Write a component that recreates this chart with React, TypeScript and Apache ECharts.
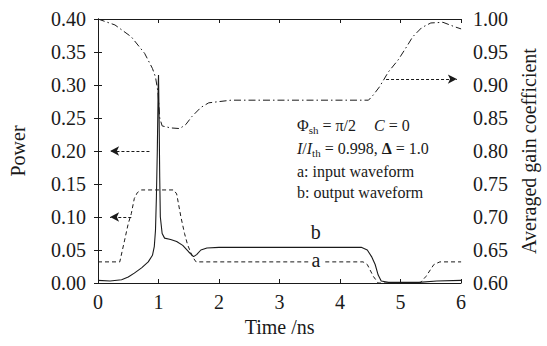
import React, { useEffect, useRef } from 'react';
import * as echarts from 'echarts';

const FONT = "'Times New Roman', 'Liberation Serif', Tinos, 'DejaVu Serif', serif";
const INK = '#1a1a1a';

// Input waveform (a)
const timeA = [0, 0.36, 0.44, 0.5, 0.55, 0.6, 0.65, 0.72, 1.25, 1.3, 1.37, 1.43, 1.48, 1.56, 1.62, 4.38, 4.45, 4.55, 4.63, 5.32, 5.42, 5.55, 5.65, 6];
const powerA = [0.032, 0.032, 0.065, 0.09, 0.105, 0.128, 0.137, 0.141, 0.141, 0.135, 0.1, 0.075, 0.058, 0.04, 0.032, 0.032, 0.028, 0.01, 0.0, 0.0, 0.01, 0.028, 0.032, 0.032];

// Output waveform (b)
const timeB = [0, 0.2, 0.39, 0.5, 0.6, 0.72, 0.83, 0.9, 0.93, 0.95, 0.965, 0.98, 0.995, 1.0, 1.01, 1.02, 1.03, 1.06, 1.1, 1.2, 1.3, 1.4, 1.5, 1.58, 1.63, 1.7, 1.8, 2.0, 4.35, 4.45, 4.52, 4.58, 4.63, 4.68, 4.8, 5.3, 5.6, 6];
const powerB = [0.004, 0.003, 0.005, 0.009, 0.015, 0.023, 0.032, 0.042, 0.055, 0.08, 0.13, 0.2, 0.3, 0.315, 0.25, 0.16, 0.1, 0.075, 0.068, 0.066, 0.063, 0.057, 0.047, 0.04, 0.043, 0.05, 0.053, 0.054, 0.054, 0.05, 0.04, 0.028, 0.012, 0.003, 0.001, 0.001, 0.003, 0.004];

// Averaged gain coefficient
const timeG = [0, 0.28, 0.55, 0.77, 0.9, 0.95, 0.99, 1.02, 1.06, 1.2, 1.35, 1.45, 1.55, 1.7, 1.83, 2.2, 4.47, 4.55, 4.65, 4.8, 4.96, 5.1, 5.2, 5.35, 5.5, 5.7, 5.9, 6];
const gainG = [1.0, 0.991, 0.973, 0.948, 0.925, 0.912, 0.89, 0.85, 0.838, 0.835, 0.834, 0.84, 0.852, 0.866, 0.873, 0.877, 0.877, 0.885, 0.897, 0.92, 0.938, 0.958, 0.973, 0.987, 0.994, 0.995, 0.988, 0.985];

const powerMin = 0;
const powerMax = 0.4;
const gainMin = 0.6;
const gainMax = 1.0;
const yStep = 0.05;

const pairs = (xs: number[], ys: number[]) => xs.map((x, i) => [x, ys[i]]);

export default function App() {
  const ref = useRef<HTMLDivElement>(null);
  useEffect(() => {
    document.body.style.margin = '0';
    const chart = echarts.init(ref.current!, null, { renderer: 'svg' });
    const axisFont = { fontFamily: FONT, fontSize: 20, color: INK };
    const arrowLine = {
      silent: true,
      symbol: ['none', 'arrow'],
      symbolSize: [7, 9],
      label: { show: false },
      lineStyle: { type: [3, 2], color: INK, width: 1 },
    };
    const n = { fontFamily: FONT, fontSize: 16, lineHeight: 20, fill: INK, verticalAlign: 'middle' };
    const sub = { fontFamily: FONT, fontSize: 11, lineHeight: 11, fill: INK, verticalAlign: 'bottom' };
    chart.setOption({
      animation: false,
      backgroundColor: '#fff',
      textStyle: { fontFamily: FONT },
      grid: { left: 96, right: 83, top: 19, bottom: 63 },
      xAxis: [
        {
          type: 'value', min: 0, max: 6, interval: 1,
          name: 'Time /ns', nameLocation: 'middle', nameGap: 33,
          nameTextStyle: { ...axisFont },
          axisLine: { show: true, lineStyle: { color: INK, width: 1 } },
          axisTick: { show: true, inside: true, length: 4, lineStyle: { color: INK } },
          axisLabel: { ...axisFont, margin: 9 },
          splitLine: { show: false },
        },
        {
          type: 'value', min: 0, max: 6, interval: 1, position: 'top',
          axisLine: { show: true, lineStyle: { color: INK, width: 1 } },
          axisTick: { show: true, inside: true, length: 4, lineStyle: { color: INK } },
          axisLabel: { show: false },
          splitLine: { show: false },
        },
      ],
      yAxis: [
        {
          type: 'value', min: powerMin, max: powerMax, interval: yStep,
          name: 'Power', nameLocation: 'middle', nameGap: 70,
          nameTextStyle: { ...axisFont },
          axisLine: { show: true, lineStyle: { color: INK, width: 1 } },
          axisTick: { show: true, inside: true, length: 4, lineStyle: { color: INK } },
          axisLabel: { ...axisFont, margin: 12, formatter: (v: number) => v.toFixed(2) },
          splitLine: { show: false },
        },
        {
          type: 'value', min: gainMin, max: gainMax, interval: yStep, position: 'right',
          name: 'Averaged gain coefficient', nameLocation: 'middle', nameGap: 56, nameRotate: 90,
          nameTextStyle: { ...axisFont },
          axisLine: { show: true, lineStyle: { color: INK, width: 1 } },
          axisTick: { show: true, inside: true, length: 4, lineStyle: { color: INK } },
          axisLabel: { ...axisFont, margin: 12, formatter: (v: number) => v.toFixed(2) },
          splitLine: { show: false },
        },
      ],
      series: [
        {
          name: 'a', type: 'line', xAxisIndex: 0, yAxisIndex: 0,
          data: pairs(timeA, powerA), showSymbol: false, symbol: 'none',
          lineStyle: { color: INK, width: 1, type: [4, 3] },
          markLine: {
            ...arrowLine,
            data: [
              [{ coord: [0.85, 0.2] }, { coord: [0.2, 0.2] }],
              [{ coord: [0.55, 0.1] }, { coord: [0.2, 0.1] }],
            ],
          },
          markPoint: {
            silent: true,
            symbol: 'rect', symbolSize: [14, 14],
            itemStyle: { color: '#fff' },
            label: { show: true, position: 'inside', formatter: 'a', fontFamily: FONT, fontSize: 20, color: INK, offset: [0, -2] },
            data: [{ coord: [3.6, 0.032] }],
          },
        },
        {
          name: 'b', type: 'line', xAxisIndex: 0, yAxisIndex: 0,
          data: pairs(timeB, powerB), showSymbol: false, symbol: 'none',
          lineStyle: { color: INK, width: 1.1, type: 'solid' },
          markPoint: {
            silent: true,
            symbol: 'rect', symbolSize: [1, 1],
            itemStyle: { color: 'rgba(0,0,0,0)' },
            label: { show: true, position: 'inside', formatter: 'b', fontFamily: FONT, fontSize: 20, color: INK },
            data: [{ coord: [3.6, 0.077] }],
          },
        },
        {
          name: 'gain', type: 'line', xAxisIndex: 0, yAxisIndex: 1,
          data: pairs(timeG, gainG), showSymbol: false, symbol: 'none',
          lineStyle: { color: INK, width: 1, type: [7, 3, 1.5, 3] },
          markLine: {
            ...arrowLine,
            data: [[{ coord: [4.76, 0.909] }, { coord: [5.93, 0.909] }]],
          },
        },
      ],
      graphic: [
        {
          type: 'text', left: 297, top: 117, silent: true,
          style: {
            text: '{n|Φ}{s|sh}{n| = π/2}',
            rich: { n, s: sub },
          },
        },
        {
          type: 'text', left: 374, top: 117, silent: true,
          style: {
            text: '{i|C}{n| = 0}',
            rich: { n, i: { ...n, fontStyle: 'italic' } },
          },
        },
        {
          type: 'text', left: 297, top: 140, silent: true,
          style: {
            text: '{i|I}{n|/}{i|I}{s|th}{n| = 0.998, }{b|Δ}{n| = 1.0}',
            rich: { n, i: { ...n, fontStyle: 'italic' }, b: { ...n, fontWeight: 'bold' }, s: sub },
          },
        },
        {
          type: 'text', left: 297, top: 163, silent: true,
          style: { text: 'a: input waveform', fontFamily: FONT, fontSize: 16, fill: INK },
        },
        {
          type: 'text', left: 297, top: 184, silent: true,
          style: { text: 'b: output waveform', fontFamily: FONT, fontSize: 16, fill: INK },
        },
      ],
    });
    return () => chart.dispose();
  }, []);
  return <div ref={ref} style={{ width: 547, height: 346 }} />;
}
